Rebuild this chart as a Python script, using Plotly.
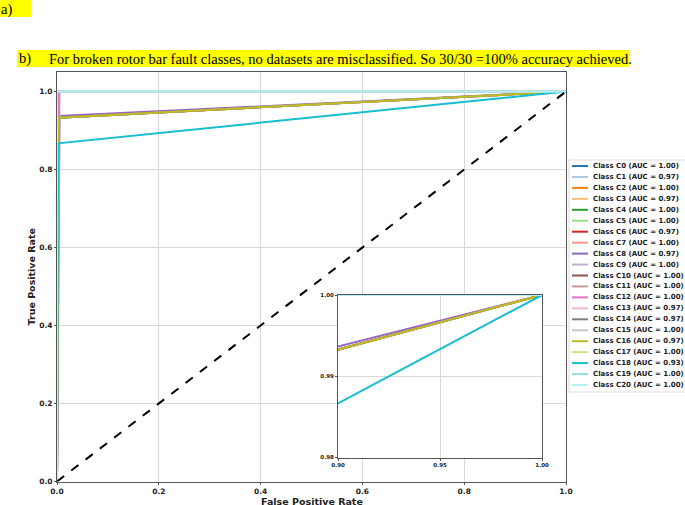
import plotly.graph_objects as go

W, H = 685, 505

# ROC data per class
class_names = ["C0", "C1", "C2", "C3", "C4", "C5", "C6", "C7", "C8", "C9", "C10",
               "C11", "C12", "C13", "C14", "C15", "C16", "C17", "C18", "C19", "C20"]
auc_values = ["1.00", "0.97", "1.00", "0.97", "1.00", "1.00", "0.97", "1.00", "0.97", "1.00", "1.00",
              "1.00", "1.00", "0.97", "0.97", "1.00", "0.97", "1.00", "0.93", "1.00", "1.00"]
fpr_points = [
    [0, 0, 1], [0, 0.003, 1], [0, 0, 1], [0, 0.003, 1], [0, 0, 1], [0, 0, 1],
    [0, 0.003, 1], [0, 0, 1], [0, 0.005, 1], [0, 0.005, 1], [0, 0, 1], [0, 0, 1],
    [0, 0.004, 1], [0, 0.003, 1], [0, 0.003, 1], [0, 0, 1], [0, 0.003, 1], [0, 0, 1],
    [0, 0.002, 1], [0, 0, 1], [0, 0, 1],
]
tpr_points = [
    [0, 1, 1], [0, 0.933, 1], [0, 1, 1], [0, 0.933, 1], [0, 1, 1], [0, 1, 1],
    [0, 0.933, 1], [0, 1, 1], [0, 0.937, 1], [0, 1, 1], [0, 1, 1], [0, 1, 1],
    [0, 1, 1], [0, 0.933, 1], [0, 0.933, 1], [0, 1, 1], [0, 0.933, 1], [0, 1, 1],
    [0, 0.867, 1], [0, 1, 1], [0, 1, 1],
]
colors = ['#1f77b4', '#aec7e8', '#ff7f0e', '#ffbb78', '#2ca02c', '#98df8a', '#d62728',
          '#ff9896', '#9467bd', '#c5b0d5', '#8c564b', '#c49c94', '#e377c2', '#f7b6d2',
          '#7f7f7f', '#c7c7c7', '#bcbd22', '#dbdb8d', '#17becf', '#9edae5', '#b8eef5']

chance_x = [0, 1]
chance_y = [0, 1]

main_ticks = [0.0, 0.2, 0.4, 0.6, 0.8, 1.0]
inset_xticks = [0.90, 0.95, 1.00]
inset_yticks = [0.98, 0.99, 1.00]

caption_a = "a)"
caption_b_label = "b)"
caption_b = "For broken rotor bar fault classes, no datasets are misclassified. So 30/30 =100% accuracy achieved."


def px(x):
    return x / W


def py(y):
    return 1 - y / H


fig = go.Figure()

for axes in ("", "2"):
    for i in range(len(class_names)):
        fig.add_scatter(x=fpr_points[i], y=tpr_points[i], mode='lines',
                        line=dict(color=colors[i], width=2),
                        xaxis='x' + axes, yaxis='y' + axes, showlegend=False,
                        name='Class %s (AUC = %s)' % (class_names[i], auc_values[i]))
fig.add_scatter(x=chance_x, y=chance_y, mode='lines',
                line=dict(color='black', width=2, dash='dash'),
                xaxis='x', yaxis='y', showlegend=False)

tick_font = dict(family='DejaVu Sans', size=7.5, color='#222', weight='bold')
inset_font = dict(family='DejaVu Sans', size=5.5, color='#222', weight='bold')
title_font = dict(family='DejaVu Sans', size=9.5, color='#222', weight='bold')
axis_common = dict(showline=True, linecolor='#555', linewidth=1, mirror=True,
                   ticks='outside', ticklen=2, tickcolor='#555', showgrid=True,
                   gridcolor='#d9d9d9', gridwidth=1, zeroline=False, automargin=False)

shapes = [
    dict(type='rect', xref='paper', yref='paper', x0=px(0), x1=px(31), y0=py(0), y1=py(17),
         fillcolor='#ffff00', line=dict(width=0), layer='below'),
    dict(type='rect', xref='paper', yref='paper', x0=px(17), x1=px(629), y0=py(50), y1=py(67),
         fillcolor='#ffff00', line=dict(width=0), layer='below'),
    dict(type='rect', xref='paper', yref='paper', x0=px(569), x1=px(690), y0=py(160), y1=py(392),
         fillcolor='white', line=dict(width=1, color='#dddddd')),
]
serif = dict(family='Liberation Serif', size=14.5, color='black')
annotations = [
    dict(text=caption_a, xref='paper', yref='paper', x=px(-1), y=py(9), xanchor='left',
         yanchor='middle', showarrow=False, font=serif),
    dict(text=caption_b_label, xref='paper', yref='paper', x=px(17), y=py(59), xanchor='left',
         yanchor='middle', showarrow=False, font=serif),
    dict(text=caption_b, xref='paper', yref='paper', x=px(47), y=py(59), xanchor='left',
         yanchor='middle', showarrow=False, font=serif),
    # x axis title, placed by hand so it sits below the tick labels
    dict(text='False Positive Rate', xref='x domain', yref='paper', x=0.5, y=py(501),
         xanchor='center', yanchor='middle', showarrow=False, font=title_font),
]

# hand-made legend (tight row spacing)
for i in range(len(class_names)):
    y = 166 + i * 10.95
    shapes.append(dict(type='line', xref='paper', yref='paper', x0=px(572), x1=px(588),
                       y0=py(y), y1=py(y), line=dict(color=colors[i], width=2)))
    annotations.append(dict(text='Class %s (AUC = %s)' % (class_names[i], auc_values[i]),
                            xref='paper', yref='paper', x=px(591), y=py(y),
                            xanchor='left', yanchor='middle', showarrow=False,
                            font=dict(family='DejaVu Sans', size=7, color='#222', weight='bold')))

fig.update_layout(
    width=W, height=H,
    margin=dict(l=0, r=0, t=0, b=0),
    paper_bgcolor='white', plot_bgcolor='white',
    showlegend=False,
    xaxis=dict(domain=[px(57), px(566)], range=[0, 1], tickvals=main_ticks, tickformat='.1f',
               tickfont=tick_font, anchor='y', **axis_common),
    yaxis=dict(domain=[py(481.5), py(72)], range=[0, 1.05], tickvals=main_ticks, tickformat='.1f',
               tickfont=tick_font, anchor='x',
               title=dict(text='True Positive Rate', font=title_font, standoff=1), **axis_common),
    xaxis2=dict(domain=[px(338), px(542)], range=[0.9, 1.0], tickvals=inset_xticks, tickformat='.2f',
                tickfont=inset_font, anchor='y2', **axis_common),
    yaxis2=dict(domain=[py(457.5), py(295)], range=[0.98, 1.0], tickvals=inset_yticks, tickformat='.2f',
                tickfont=inset_font, anchor='x2', **axis_common),
    shapes=shapes,
    annotations=annotations,
)

fig.write_html("out.html", config={'displayModeBar': False},
               post_script="document.body.style.margin = '0';")
